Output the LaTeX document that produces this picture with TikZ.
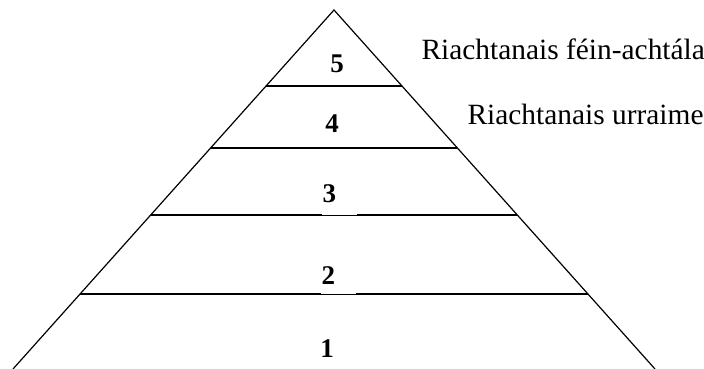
\documentclass[tikz,border=0pt]{standalone}
\usepackage{fontspec}
\setmainfont{Liberation Serif}
\usetikzlibrary{calc}
\tikzset{
  level/.style={font=\fontsize{27}{30}\selectfont\bfseries, inner sep=0pt, anchor=base},
  levelgap/.style={level, anchor=base west, fill=white, text width=33pt, align=left, inner xsep=1pt},
  need/.style={font=\fontsize{29.4}{34}\selectfont, inner sep=0pt, anchor=base west},
}
\begin{document}
\begin{tikzpicture}[x=1pt, y=1pt, line width=1.2pt]
    \useasboundingbox (0,0) rectangle (704,369);

    \coordinate (apex) at (334,359);
    \coordinate (bl) at (13,0);
    \coordinate (br) at (655,0);
    \draw (bl) -- (apex) -- (br);

    % level borders
    \foreach \t in {0.2117,0.3844,0.571,0.791} {
        \draw ($(apex)!\t!(bl)$) -- ($(apex)!\t!(br)$);
    }

    \node[level] (l5) at (337,296) {5};
    \node[level] (l4) at (332,236) {4};
    \node[levelgap, text depth=12.3pt] (l3) at (321,166) {3};
    \node[levelgap, text depth=8.8pt] (l2) at (320,84) {2};
    \node[level] (l1) at (327,11) {1};

    \node[need] (selfact) at (421,309) {Riachtanais féin-achtála};
    \node[need] (esteem) at (467,244) {Riachtanais urraime};
\end{tikzpicture}
\end{document}
